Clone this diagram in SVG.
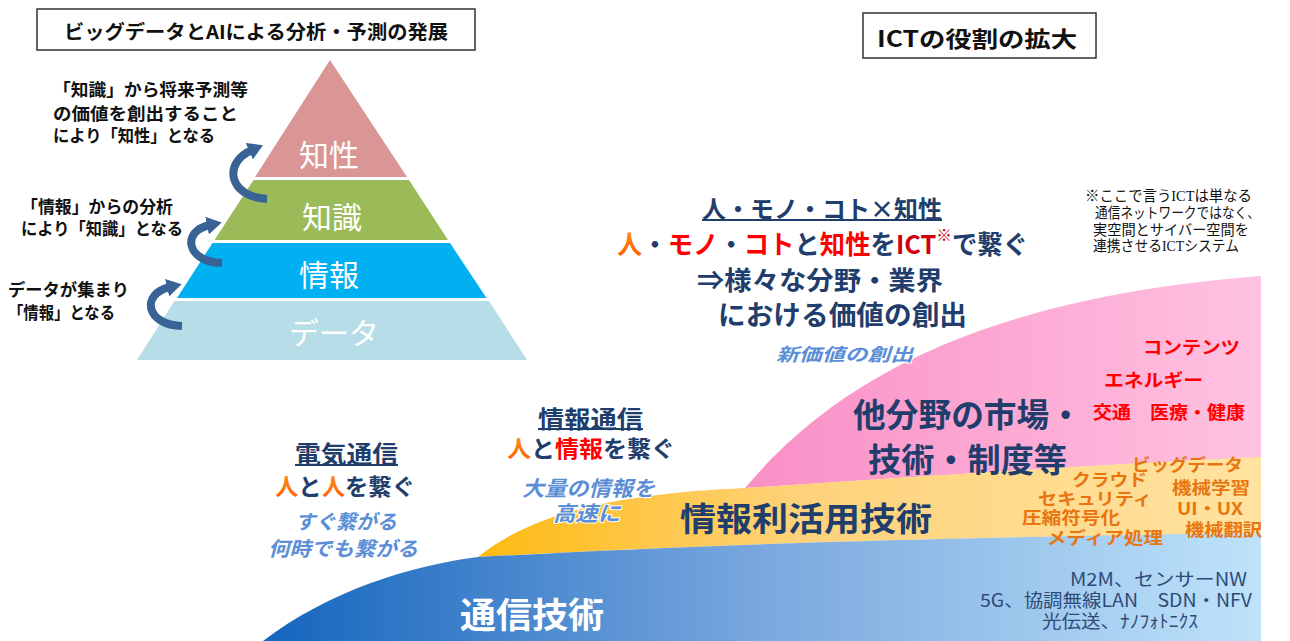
<svg xmlns="http://www.w3.org/2000/svg" width="1290" height="641" viewBox="0 0 1290 641">
<defs>
<style>
text{font-family:"Noto Sans CJK JP","Noto Sans",sans-serif;dominant-baseline:central}
.b{font-weight:bold}
.dk{fill:#213D6B}
.lbl{fill:#111;font-weight:bold;font-size:17.5px}
.py{fill:#fff;font-size:30px;text-anchor:middle}
.it{fill:#5B8ED6;font-style:italic;font-weight:bold;stroke:#fff;stroke-width:2px;paint-order:stroke}
.red{fill:#FF0000;font-weight:bold;font-size:18px}
.or{fill:#E8750F;font-weight:bold;font-size:17px}
.nw{fill:#2E4B78;font-size:18px}
.note{font-family:"Liberation Serif","Noto Sans CJK JP",serif;font-size:14.5px;fill:#111}
.arr{fill:none;stroke:#3A6395;stroke-width:8;marker-end:url(#ah)}
.ul{stroke:#213D6B;stroke-width:1.8}
</style>
<marker id="ah" markerUnits="userSpaceOnUse" markerWidth="16" markerHeight="18" refX="3" refY="9" orient="auto">
<path d="M0,0 L15,9 L0,18 z" fill="#3A6395"/>
</marker>
<linearGradient id="gBlue" gradientUnits="userSpaceOnUse" x1="263" y1="0" x2="1261" y2="0">
<stop offset="0" stop-color="#1465BE"/>
<stop offset="0.5" stop-color="#7AA8DE"/>
<stop offset="1" stop-color="#BEE3FA"/>
</linearGradient>
<linearGradient id="gYel" gradientUnits="userSpaceOnUse" x1="490" y1="0" x2="1261" y2="0">
<stop offset="0" stop-color="#FDBB14"/>
<stop offset="0.4" stop-color="#FED27A"/>
<stop offset="1" stop-color="#FFE3A0"/>
</linearGradient>
<linearGradient id="gPink" gradientUnits="userSpaceOnUse" x1="745" y1="0" x2="1261" y2="0">
<stop offset="0" stop-color="#F98FC6"/>
<stop offset="1" stop-color="#FFC2E1"/>
</linearGradient>
<linearGradient id="gOr" x1="0" y1="0" x2="0" y2="1">
<stop offset="0" stop-color="#FF9A1A"/>
<stop offset="1" stop-color="#FF5A00"/>
</linearGradient>
</defs>
<rect width="1290" height="641" fill="#fff"/>

<!-- Left title -->
<g id="title-left">
<rect x="37" y="9" width="438" height="41" fill="#fff" stroke="#333" stroke-width="1.5"/>
<text x="256" y="30" class="b" font-size="19" text-anchor="middle" fill="#111" textLength="384" lengthAdjust="spacingAndGlyphs">ビッグデータとAIによる分析・予測の発展</text>
</g>

<!-- Pyramid -->
<g id="layer-chisei">
<polygon points="330,60 407,177 255,177" fill="#D99694"/>
<text x="329" y="153" class="py">知性</text>
</g>
<g id="layer-chishiki">
<polygon points="253.5,180 409,180 448,240 214.5,240" fill="#9BBB59"/>
<text x="332" y="215" class="py">知識</text>
</g>
<g id="layer-joho">
<polygon points="212.5,243 450,243 486.5,298 177,298" fill="#00B0F0"/>
<text x="329" y="273" class="py">情報</text>
</g>
<g id="layer-data">
<polygon points="174.5,301 489,301 527,360 137,360" fill="#B7DEE8"/>
<text x="334" y="331" class="py">データ</text>
</g>

<g id="connectors">
<path class="arr" d="M267,199 C229,197 222,163 252,150"/>
<path class="arr" d="M222,263 C186,262 181,231 210,225"/>
<path class="arr" d="M182,326 C146,325 140,294 170,287"/>
</g>

<g id="left-labels">
<text class="lbl" x="53" y="88" textLength="195" lengthAdjust="spacingAndGlyphs">「知識」から将来予測等</text>
<text class="lbl" x="53" y="112" textLength="185" lengthAdjust="spacingAndGlyphs">の価値を創出すること</text>
<text class="lbl" x="53" y="134" textLength="162" lengthAdjust="spacingAndGlyphs">により「知性」となる</text>
<text class="lbl" x="21" y="205" textLength="152" lengthAdjust="spacingAndGlyphs">「情報」からの分析</text>
<text class="lbl" x="21" y="227" textLength="162" lengthAdjust="spacingAndGlyphs">により「知識」となる</text>
<text class="lbl" x="8" y="288" textLength="121" lengthAdjust="spacingAndGlyphs">データが集まり</text>
<text class="lbl" x="8" y="311" textLength="107" lengthAdjust="spacingAndGlyphs">「情報」となる</text>
</g>

<!-- Right title -->
<g id="title-right">
<rect x="863" y="13" width="233" height="45" fill="#fff" stroke="#333" stroke-width="1.5"/>
<text x="977" y="37" class="b" font-size="22" text-anchor="middle" fill="#111" textLength="200" lengthAdjust="spacingAndGlyphs">ICTの役割の拡大</text>
</g>

<!-- Areas -->
<g id="area-pink">
<path d="M745,488 C820,400 950,300 1261,276 L1261,458 C1100,464 900,478 745,488 Z" fill="url(#gPink)"/>
</g>
<g id="area-yellow">
<path d="M478,557 C530,515 610,494 745,488 C900,478 1100,464 1261,457 L1261,534 C900,538 700,545 478,557 Z" fill="url(#gYel)"/>
</g>
<g id="area-blue">
<path d="M263,641 C330,590 410,566 478,557 C700,545 900,538 1261,533 L1261,641 Z" fill="url(#gBlue)"/>
</g>

<!-- Central headline -->
<g id="headline">
<text x="702" y="207" class="b dk" font-size="24" textLength="240" lengthAdjust="spacingAndGlyphs">人・モノ・コト×知性</text>
<line class="ul" x1="702" y1="220" x2="942" y2="220"/>
<text x="617" y="242" class="b" font-size="26" textLength="411" lengthAdjust="spacingAndGlyphs"><tspan fill="url(#gOr)">人</tspan><tspan fill="#213D6B">・</tspan><tspan fill="#FF0000">モノ</tspan><tspan fill="#213D6B">・</tspan><tspan fill="#FF0000">コト</tspan><tspan fill="#213D6B">と</tspan><tspan fill="#FF0000">知性</tspan><tspan fill="#213D6B">を</tspan><tspan fill="#D0000F">ICT</tspan><tspan fill="#D0000F" font-size="16" dy="-8">※</tspan><tspan fill="#213D6B" dy="8">で繋ぐ</tspan></text>
<text x="697" y="278" class="b dk" font-size="26" textLength="246" lengthAdjust="spacingAndGlyphs">⇒様々な分野・業界</text>
<text x="718" y="313" class="b dk" font-size="27" textLength="249" lengthAdjust="spacingAndGlyphs">における価値の創出</text>
</g>

<g id="note">
<text class="note" x="1085" y="196" textLength="167" lengthAdjust="spacingAndGlyphs">※ここで言うICTは単なる</text>
<text class="note" x="1095" y="213" textLength="165" lengthAdjust="spacingAndGlyphs">通信ネットワークではなく、</text>
<text class="note" x="1093" y="230" textLength="156" lengthAdjust="spacingAndGlyphs">実空間とサイバー空間を</text>
<text class="note" x="1093" y="246" textLength="146" lengthAdjust="spacingAndGlyphs">連携させるICTシステム</text>
</g>

<g id="new-value">
<text x="776" y="353" class="it" font-size="18" textLength="137" lengthAdjust="spacingAndGlyphs">新価値の創出</text>
</g>

<g id="other-fields">
<text x="853" y="413" class="b dk" font-size="33" textLength="229" lengthAdjust="spacingAndGlyphs">他分野の市場・</text>
<text x="868" y="458" class="b dk" font-size="33" textLength="199" lengthAdjust="spacingAndGlyphs">技術・制度等</text>
<text x="1143" y="346" class="red" textLength="97" lengthAdjust="spacingAndGlyphs">コンテンツ</text>
<text x="1104" y="379" class="red" textLength="99" lengthAdjust="spacingAndGlyphs">エネルギー</text>
<text x="1093" y="411" class="red" textLength="152" lengthAdjust="spacingAndGlyphs">交通　医療・健康</text>
</g>

<g id="info-utilization">
<text x="680" y="517" class="b dk" font-size="33" textLength="252" lengthAdjust="spacingAndGlyphs">情報利活用技術</text>
<text x="1132" y="463" class="or" textLength="111" lengthAdjust="spacingAndGlyphs">ビッグデータ</text>
<text x="1072" y="478" class="or" textLength="75" lengthAdjust="spacingAndGlyphs">クラウド</text>
<text x="1172" y="486" class="or" textLength="78" lengthAdjust="spacingAndGlyphs">機械学習</text>
<text x="1038" y="497" class="or" textLength="114" lengthAdjust="spacingAndGlyphs">セキュリティ</text>
<text x="1177" y="507" class="or" textLength="66" lengthAdjust="spacingAndGlyphs">UI・UX</text>
<text x="1022" y="516" class="or" textLength="98" lengthAdjust="spacingAndGlyphs">圧縮符号化</text>
<text x="1185" y="528" class="or" textLength="77" lengthAdjust="spacingAndGlyphs">機械翻訳</text>
<text x="1047" y="536" class="or" textLength="116" lengthAdjust="spacingAndGlyphs">メディア処理</text>
</g>

<g id="comm-tech">
<text x="460" y="612" class="b" font-size="35" fill="#fff" textLength="144" lengthAdjust="spacingAndGlyphs">通信技術</text>
<text x="1070" y="578" class="nw" textLength="177" lengthAdjust="spacingAndGlyphs">M2M、センサーNW</text>
<text x="980" y="599" class="nw" textLength="272" lengthAdjust="spacingAndGlyphs">5G、協調無線LAN　SDN・NFV</text>
<text x="1042" y="620" class="nw" textLength="156" lengthAdjust="spacingAndGlyphs">光伝送、ﾅﾉﾌｫﾄﾆｸｽ</text>
</g>

<g id="telecom">
<text x="295" y="452" class="b dk" font-size="24" textLength="103" lengthAdjust="spacingAndGlyphs">電気通信</text>
<line class="ul" x1="295" y1="465" x2="398" y2="465"/>
<text x="275" y="485" class="b" font-size="23" textLength="140" lengthAdjust="spacingAndGlyphs"><tspan fill="url(#gOr)">人</tspan><tspan fill="#213D6B">と</tspan><tspan fill="url(#gOr)">人</tspan><tspan fill="#213D6B">を繋ぐ</tspan></text>
<text x="295" y="520" class="it" font-size="20" textLength="102" lengthAdjust="spacingAndGlyphs">すぐ繋がる</text>
<text x="268" y="547" class="it" font-size="20" textLength="150" lengthAdjust="spacingAndGlyphs">何時でも繋がる</text>
</g>

<g id="infocomm">
<text x="538" y="417" class="b dk" font-size="24" textLength="105" lengthAdjust="spacingAndGlyphs">情報通信</text>
<line class="ul" x1="538" y1="429" x2="643" y2="429"/>
<text x="507" y="447" class="b" font-size="23" textLength="168" lengthAdjust="spacingAndGlyphs"><tspan fill="url(#gOr)">人</tspan><tspan fill="#213D6B">と</tspan><tspan fill="#FF0000">情報</tspan><tspan fill="#213D6B">を繋ぐ</tspan></text>
<text x="522" y="487" class="it" font-size="21" textLength="133" lengthAdjust="spacingAndGlyphs">大量の情報を</text>
<text x="553" y="512" class="it" font-size="21" textLength="67" lengthAdjust="spacingAndGlyphs">高速に</text>
</g>
</svg>
